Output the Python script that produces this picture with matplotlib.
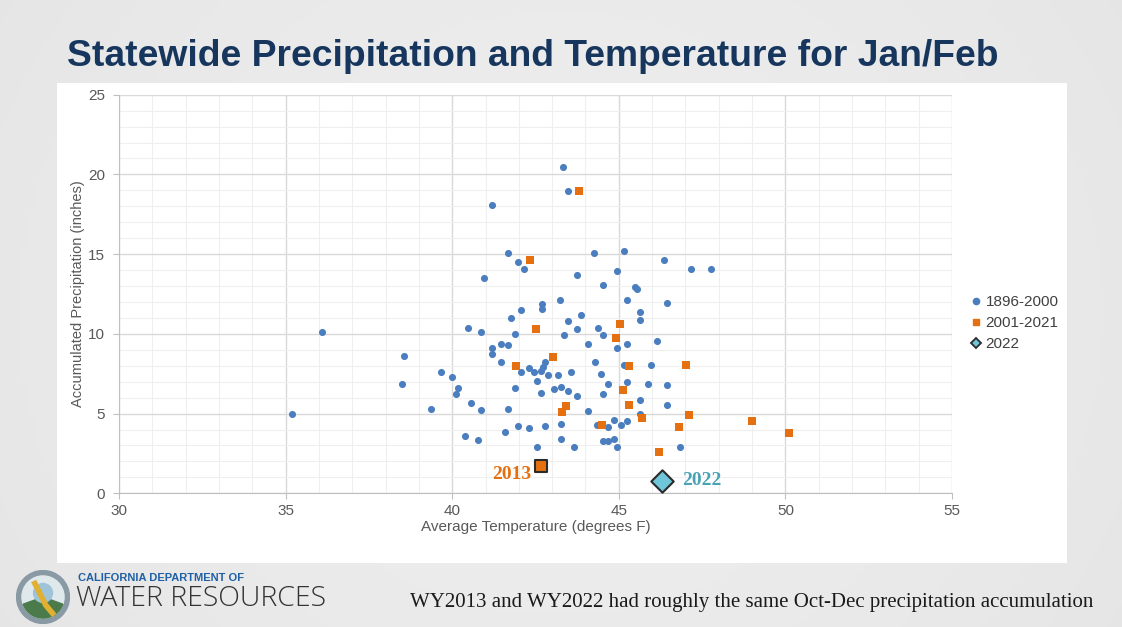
import matplotlib.pyplot as plt
import numpy as np
from matplotlib.patches import Rectangle, Circle, Wedge
from matplotlib.lines import Line2D

# Jan/Feb average temperature (F) and accumulated precipitation (in), 1896-2000
temp_1896_2000 = [35.2, 36.1, 38.55, 38.5, 39.35, 39.67, 40.0, 40.16, 40.1, 40.47,
                  40.87, 40.56, 40.87, 40.39, 40.78, 41.18, 41.18, 41.45, 41.67, 41.45,
                  41.67, 41.58, 41.88, 41.75, 42.06, 42.69, 42.69, 41.88, 42.06, 42.3,
                  42.46, 42.56, 42.68, 42.73, 42.79, 42.68, 42.88, 41.97, 42.3, 42.78,
                  42.56, 43.19, 43.07, 43.26, 43.48, 43.57, 43.74, 43.26, 43.26, 43.65,
                  43.35, 43.47, 43.74, 43.24, 43.34, 43.48, 41.18, 41.66, 41.98, 42.15,
                  40.96, 43.74, 44.27, 45.17, 46.36, 47.16, 47.78, 44.94, 44.54, 45.48,
                  45.56, 45.26, 46.44, 45.65, 45.65, 43.88, 44.37, 44.54, 44.07, 44.94,
                  45.26, 46.14, 44.28, 44.46, 45.15, 45.97, 44.67, 45.25, 45.87, 46.44,
                  44.54, 45.65, 46.44, 44.07, 45.65, 44.35, 44.68, 44.86, 45.07, 45.25,
                  44.54, 44.68, 44.86, 44.94, 46.85]
precip_1896_2000 = [4.95, 10.1, 8.62, 6.85, 5.28, 7.6, 7.3, 6.6, 6.2, 10.38,
                    10.09, 5.66, 5.2, 3.61, 3.34, 9.09, 8.75, 9.35, 9.27, 8.24,
                    5.28, 3.82, 10.0, 11.02, 11.48, 11.88, 11.58, 6.58, 7.6, 7.88,
                    7.6, 7.05, 7.7, 7.92, 8.22, 6.3, 7.42, 4.24, 4.08, 4.24,
                    2.9, 7.42, 6.57, 6.68, 6.4, 7.6, 6.12, 4.37, 3.43, 2.9,
                    9.9, 10.83, 10.28, 12.13, 20.48, 18.97, 18.06, 15.1, 14.53, 14.07,
                    13.52, 13.71, 15.09, 15.19, 14.63, 14.06, 14.06, 13.96, 13.06, 12.95,
                    12.79, 12.14, 11.95, 11.39, 10.85, 11.2, 10.36, 9.9, 9.36, 9.09,
                    9.36, 9.56, 8.25, 7.5, 8.06, 8.06, 6.85, 6.96, 6.85, 6.77,
                    6.21, 5.85, 5.56, 5.18, 4.95, 4.26, 4.16, 4.62, 4.26, 4.53,
                    3.26, 3.26, 3.42, 2.9, 2.9]

# 2001-2021 (2013 highlighted separately)
temp_2001_2021 = [43.82, 42.33, 42.5, 43.02, 41.92, 43.43, 43.3, 45.04, 44.92, 45.3,
                  47.02, 45.12, 45.31, 45.7, 47.12, 49.0, 50.12, 46.8, 44.5, 46.22]
precip_2001_2021 = [18.97, 14.64, 10.28, 8.55, 7.98, 5.48, 5.11, 10.63, 9.74, 7.98,
                    8.06, 6.48, 5.56, 4.72, 4.91, 4.53, 3.8, 4.16, 4.26, 2.61]
temp_2013, precip_2013 = 42.67, 1.73
temp_2022, precip_2022 = 46.29, 0.79

BLUE = '#4a7ebf'
ORANGE = '#e5700f'
TEAL = '#4aa3b5'

W, H = 1122, 627


def px(x, y):
    return x / W, 1 - y / H


fig = plt.figure(figsize=(W / 100, H / 100), dpi=100)

# slide background, soft grey
bg = fig.add_axes([0, 0, 1, 1], zorder=-10)
yy, xx = np.mgrid[-1:1:200j, -1:1:300j]
grad = 0.925 - 0.025 * (xx ** 2 * 0.8 + yy ** 2 * 0.3)
bg.imshow(grad, cmap='gray', vmin=0, vmax=1, extent=[0, 1, 0, 1], aspect='auto')
bg.set_xlim(0, 1)
bg.set_ylim(0, 1)
bg.axis('off')
bg.add_patch(Rectangle(px(57, 563), (1067 - 57) / W, (563 - 83) / H,
                       transform=fig.transFigure, facecolor='white', edgecolor='none'))

fig.text(*px(67, 56), 'Statewide Precipitation and Temperature for Jan/Feb',
         fontsize=26.8, fontweight='bold', color='#17365d', family='Liberation Sans',
         va='center', ha='left')

l, t, r, b = 119, 94.7, 952, 493.3
ax = fig.add_axes([l / W, 1 - b / H, (r - l) / W, (b - t) / H])
ax.set_xlim(30, 55)
ax.set_ylim(0, 25)
ax.set_xticks(range(30, 56, 5))
ax.set_yticks(range(0, 26, 5))
ax.set_xticks(range(30, 56), minor=True)
ax.set_yticks(range(0, 26), minor=True)
ax.grid(which='major', color='#d9d9d9', linewidth=1.0)
ax.grid(which='minor', color='#efefef', linewidth=0.8)
ax.set_axisbelow(True)
for s in ['top', 'right']:
    ax.spines[s].set_visible(False)
for s in ['left', 'bottom']:
    ax.spines[s].set_color('#bfbfbf')
ax.tick_params(which='major', colors='#bfbfbf', labelcolor='#595959', labelsize=11, length=4)
ax.tick_params(axis='y', pad=6)
ax.tick_params(which='minor', length=0)
for lab in ax.get_xticklabels() + ax.get_yticklabels():
    lab.set_family('Liberation Sans')
ax.set_xlabel('Average Temperature (degrees F)', fontsize=11, color='#595959',
              family='Liberation Sans', labelpad=2)
ax.set_ylabel('Accumulated Precipitation (inches)', fontsize=10.5, color='#595959',
              family='Liberation Sans', labelpad=2)

ax.scatter(temp_1896_2000, precip_1896_2000, s=26, color=BLUE, zorder=3, linewidths=0)
ax.scatter(temp_2001_2021, precip_2001_2021, s=26, marker='s', color=ORANGE, zorder=3, linewidths=0)
ax.scatter([temp_2013], [precip_2013], s=70, marker='s', color=ORANGE, edgecolors='#2b2b2b',
           linewidths=1.5, zorder=4)
ax.scatter([temp_2022], [precip_2022], s=130, marker='D', color='#6ec6d8', edgecolors='#2b2b2b',
           linewidths=1.5, zorder=4)

ax.annotate('2013', (temp_2013, precip_2013), xytext=(-7, -6), textcoords='offset points',
            ha='right', va='center', fontsize=14, fontweight='bold', color=ORANGE,
            family='Liberation Serif')
ax.annotate('2022', (temp_2022, precip_2022), xytext=(15, 0), textcoords='offset points',
            ha='left', va='center', fontsize=14, fontweight='bold', color=TEAL,
            family='Liberation Serif')

handles = [
    Line2D([], [], marker='o', linestyle='', color=BLUE, markersize=4.5),
    Line2D([], [], marker='s', linestyle='', color=ORANGE, markersize=5),
    Line2D([], [], marker='D', linestyle='', color='#6ec6d8', markeredgecolor='#2b2b2b',
           markeredgewidth=1.3, markersize=5),
]
fig.legend(handles, ['1896-2000', '2001-2021', '2022'], loc='center left',
           bbox_to_anchor=px(964, 323), frameon=False, handlelength=0.6,
           handletextpad=0.3, labelspacing=0.45, borderpad=0,
           prop={'family': 'Liberation Sans', 'size': 11}, labelcolor='#404040')

# DWR logo (simplified seal)
cx, cy = px(43, 597)
logo = fig.add_axes([cx - 27 / W, cy - 27 / H, 54 / W, 54 / H])
logo.set_xlim(-1, 1)
logo.set_ylim(-1, 1)
logo.set_aspect('equal')
logo.axis('off')
logo.add_patch(Circle((0, 0), 0.98, color='#8a9aa5'))
logo.add_patch(Circle((0, 0), 0.78, color='#dfe8ea'))
logo.add_patch(Wedge((0, 0), 0.78, 200, 340, color='#4b7b4a'))
logo.add_patch(Circle((0, 0.15), 0.35, color='#9fc3d9'))
logo.plot([-0.3, 0.1, 0.35], [0.5, -0.3, -0.6], color='#e0b030', linewidth=4)

fig.text(*px(78, 578), 'CALIFORNIA DEPARTMENT OF', fontsize=8, fontweight='bold',
         color='#1f5fa6', family='Liberation Sans', va='center')
fig.text(*px(76, 599), 'WATER RESOURCES', fontsize=20.5, color='#333333',
         family='Open Sans', fontweight='light', va='center')
fig.text(*px(410, 603), 'WY2013 and WY2022 had roughly the same Oct-Dec precipitation accumulation',
         fontsize=15, color='#1a1a1a', family='Liberation Serif', va='center')

fig.savefig('out.png', dpi=100)
